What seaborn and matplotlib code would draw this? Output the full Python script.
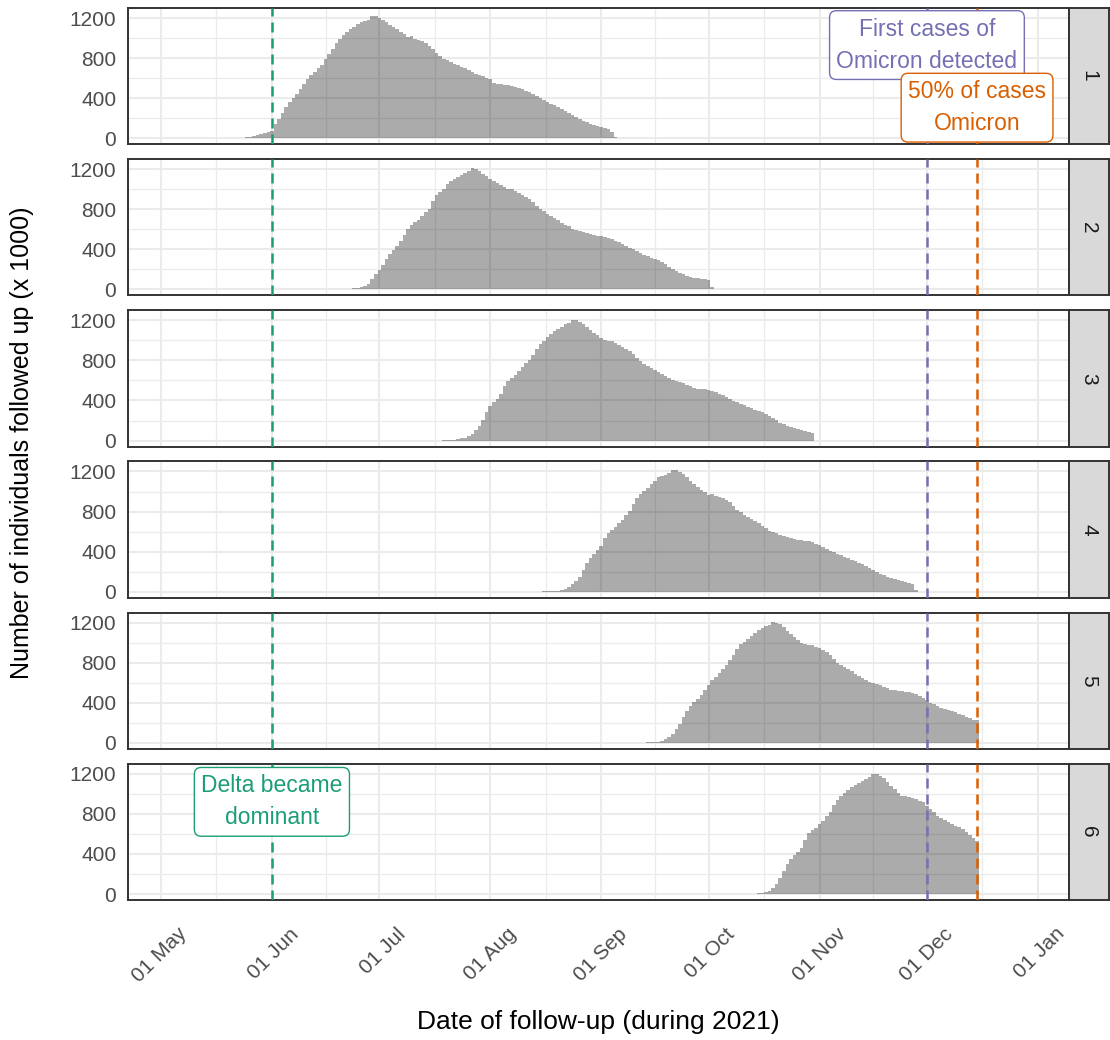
import matplotlib
matplotlib.use("Agg")
import matplotlib.pyplot as plt
import matplotlib.dates as mdates
import matplotlib.transforms as mtransforms
import numpy as np
import pandas as pd
import seaborn as sns

# daily number followed up (x 1000), one list per cohort
cohort_starts = ["2021-05-21", "2021-06-21", "2021-07-19",
                 "2021-08-16", "2021-09-12", "2021-10-12"]

cohort1 = [3, 4, 5, 7, 10, 15, 20, 30, 40, 50, 60,
           75,
           140, 190, 250, 310, 360, 400, 440, 490, 540, 590,
           630, 660, 700, 730, 790, 840, 890, 950, 990, 1030,
           1060, 1090, 1110, 1140, 1160, 1170, 1185, 1225, 1220, 1205,
           1185, 1160, 1130, 1110, 1090, 1060, 1040, 1010, 1020, 995,
           985, 970, 950, 920, 890, 850, 820, 795, 780, 760,
           745, 730, 715, 700, 680, 660, 640, 630, 620, 605,
           590, 550, 545, 540, 535, 530, 520, 510, 500, 490,
           475, 460, 440, 420, 400, 380, 360, 345, 330, 310,
           290, 270, 250, 230, 215, 195, 175, 160, 145, 130,
           120, 110, 100, 95, 60, 15]

cohort2 = [3, 5, 8, 12, 18, 25, 35, 50, 100, 150,
           190,
           240, 300, 350, 390, 430, 480, 540, 600, 640, 670,
           690, 730, 770, 800, 880, 940, 975, 1005, 1050, 1080,
           1100, 1120, 1140, 1165, 1185, 1210, 1200, 1180, 1150, 1130,
           1100, 1080, 1065, 1040, 1020, 1000, 1005, 980, 965, 945,
           920, 900, 870, 830, 800, 780, 750, 730, 710, 690,
           665, 645, 630, 605, 590, 580, 570, 560, 550, 540,
           535, 530, 525, 515, 500, 485, 470, 450, 430, 415,
           400, 380, 360, 345, 330, 315, 300, 290, 270, 250,
           225, 205, 185, 165, 150, 135, 125, 118, 112, 105,
           100, 92, 20]

cohort3 = [3, 5, 7, 10, 15, 22, 30, 45, 70, 110, 150, 210, 280,
           340,
           380, 410, 460, 540, 590, 620, 650, 690, 730, 770,
           800, 850, 910, 960, 995, 1030, 1060, 1090, 1110, 1135,
           1160, 1175, 1205, 1200, 1185, 1160, 1130, 1100, 1070, 1050,
           1020, 1005, 990, 995, 970, 955, 935, 915, 895, 860,
           820, 790, 760, 740, 720, 700, 680, 660, 640, 620,
           600, 590, 580, 570, 555, 540, 525, 515, 512, 510,
           505, 495, 480, 465, 450, 430, 410, 395, 380, 365,
           350, 335, 320, 308, 295, 280, 265, 245, 225, 205,
           180, 165, 150, 140, 130, 120, 110, 100, 90, 75]

cohort4 = [2, 3, 4, 6, 10, 18, 30, 50, 80, 110, 150, 220, 290, 340, 380, 420,
           460,
           540, 590, 620, 650, 690, 720, 770, 810, 880, 940,
           980, 1010, 1040, 1080, 1110, 1140, 1155, 1165, 1185, 1215,
           1210, 1195, 1170, 1140, 1110, 1080, 1050, 1020, 995, 965,
           980, 960, 950, 940, 920, 895, 860, 820, 795, 770,
           750, 730, 710, 690, 660, 635, 610, 595, 585, 570,
           560, 550, 540, 530, 520, 515, 510, 505, 495, 480,
           465, 450, 430, 410, 395, 380, 365, 350, 335, 320,
           305, 290, 275, 255, 235, 220, 200, 180, 165, 150,
           140, 130, 115, 105, 95, 85, 75, 15]

cohort5 = [2, 3, 4, 6, 8, 12, 20, 35, 55, 90, 140, 190, 260, 320, 370, 410,
           440, 480, 530,
           580,
           630, 660, 700, 740, 780, 830, 880, 940, 985, 1010,
           1040, 1070, 1100, 1125, 1145, 1165, 1180, 1205, 1200, 1185,
           1160, 1120, 1090, 1060, 1030, 1000, 990, 975, 980, 960,
           945, 930, 910, 880, 840, 800, 780, 760, 740, 715,
           690, 670, 645, 625, 610, 595, 585, 575, 560, 545,
           530, 525, 520, 515, 512, 510, 500, 485, 470, 450,
           425, 400, 385, 365, 350, 335, 325, 315, 305, 290,
           275, 260, 245, 230, 225]

cohort6 = [2, 3, 5, 7, 10, 18, 30, 60, 100, 160, 230, 300, 350, 390, 420,
           460, 540, 610, 640, 660,
           700,
           730, 780, 820, 890, 940, 975, 1005, 1040, 1065, 1085,
           1110, 1130, 1145, 1165, 1200, 1195, 1180, 1160, 1120, 1080,
           1050, 1010, 980, 975, 965, 960, 945, 930, 915, 880,
           850, 820, 780, 760, 740, 720, 700, 680, 665, 645,
           615, 590, 560, 530]

cohorts = [cohort1, cohort2, cohort3, cohort4, cohort5, cohort6]
cohort_labels = ["1", "2", "3", "4", "5", "6"]

# events
event_dates = ["2021-06-01", "2021-12-01", "2021-12-15"]
event_colors = ["#1B9E77", "#7570B3", "#D95F02"]
event_labels = ["Delta became\ndominant", "First cases of\nOmicron detected",
                "50% of cases\nOmicron"]
event_label_panel = [5, 0, 0]
event_label_y = [920, 930, 305]

sns.set_style("white")
plt.rcParams["font.family"] = ["Liberation Sans", "DejaVu Sans"]

fig, axes = plt.subplots(6, 1, figsize=(11.1, 10.4), dpi=100, sharex=True)
fig.subplots_adjust(left=0.1153, right=0.963, top=0.9923, bottom=0.1346,
                    hspace=0.1095)

month_ticks = pd.date_range("2021-05-01", "2022-01-01", freq="MS")
month_mids = month_ticks[:-1] + (month_ticks[1:] - month_ticks[:-1]) / 2

for i, ax in enumerate(axes):
    df = pd.DataFrame({
        "date": pd.date_range(cohort_starts[i], periods=len(cohorts[i]), freq="D"),
        "n": cohorts[i],
    })
    sns.histplot(data=df, x="date", weights="n", discrete=True, element="step",
                 fill=True, color="black", alpha=0.33, linewidth=0, ax=ax)

    for d, c in zip(event_dates, event_colors):
        ax.axvline(pd.Timestamp(d), color=c, lw=1.8, ls=(0, (4, 2.4)), zorder=3)

    ax.set_xlim(pd.Timestamp("2021-04-21 19:00"), pd.Timestamp("2022-01-09 16:00"))
    ax.set_ylim(-60, 1300)
    ax.set_yticks([0, 400, 800, 1200])
    ax.set_yticks([200, 600, 1000], minor=True)
    ax.set_xticks(month_ticks)
    ax.set_xticks(month_mids, minor=True)
    ax.xaxis.set_major_formatter(mdates.DateFormatter("%d %b"))
    ax.set_axisbelow(True)
    ax.grid(which="major", color="#EBEBEB", lw=1.5)
    ax.grid(which="minor", color="#EBEBEB", lw=0.9)
    ax.set_xlabel("")
    ax.set_ylabel("")
    for s in ax.spines.values():
        s.set_color("#333333")
        s.set_linewidth(1.4)
    ax.tick_params(axis="y", which="major", length=5, width=1.4, color="#333333",
                   labelsize=15, labelcolor="#4D4D4D", pad=3.5)
    ax.tick_params(which="minor", length=0)
    if i < 5:
        ax.tick_params(axis="x", which="major", length=0)
    else:
        ax.tick_params(axis="x", which="major", length=5, width=1.4,
                       color="#333333", labelsize=15, labelcolor="#4D4D4D")
        shift = mtransforms.ScaledTranslation(12 / 72, -9 / 72, fig.dpi_scale_trans)
        for lab in ax.get_xticklabels():
            lab.set_rotation(45)
            lab.set_ha("right")
            lab.set_va("top")
            lab.set_rotation_mode("anchor")
            lab.set_transform(lab.get_transform() + shift)

    # strip on the right
    pos = ax.get_position()
    sax = fig.add_axes([pos.x1, pos.y0, 1 - pos.x1 - 0.001, pos.height])
    sax.set_facecolor("#D9D9D9")
    sax.set_xticks([])
    sax.set_yticks([])
    for s in sax.spines.values():
        s.set_color("#333333")
        s.set_linewidth(1.4)
    sax.text(0.5, 0.5, cohort_labels[i], rotation=-90, ha="center", va="center",
             fontsize=15, color="#1A1A1A", transform=sax.transAxes)

for d, c, lab, p, y in zip(event_dates, event_colors, event_labels,
                           event_label_panel, event_label_y):
    axes[p].text(mdates.date2num(pd.Timestamp(d)), y, lab, color=c, fontsize=16.5,
                 ha="center", va="center", multialignment="center",
                 linespacing=1.5, zorder=5,
                 bbox=dict(boxstyle="round,pad=0.3,rounding_size=0.3",
                           fc="white", ec=c, lw=1.0))

fig.text(22 / 1110, 1 - 443 / 1040, "Number of individuals followed up (x 1000)",
         rotation=90, ha="center", va="center", fontsize=18, color="black")
fig.text(598.5 / 1110, 1 - 1022 / 1040, "Date of follow-up (during 2021)",
         ha="center", va="center", fontsize=19, color="black")

fig.savefig("out.png", dpi=100)
